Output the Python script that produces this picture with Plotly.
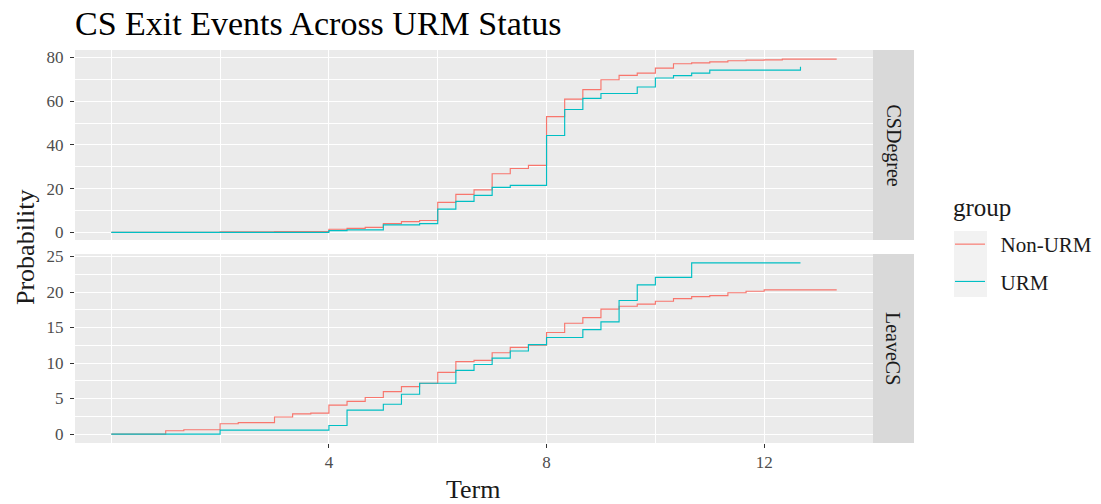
import plotly.graph_objects as go

# ---- data (terms in years of study; cumulative probability in %) ----
deg_nonurm_term = [0, 2, 3, 4, 4.333, 4.667, 5, 5.333, 5.667, 6, 6.333, 6.667, 7, 7.333, 7.667,
                   8, 8.333, 8.667, 9, 9.333, 9.667, 10, 10.333, 10.667, 11, 11.333, 11.667,
                   12, 12.333, 13.333]
deg_nonurm_prob = [0, 0.2, 0.4, 1.4, 1.8, 2.3, 4.0, 4.9, 5.4, 13.7, 17.4, 19.4, 26.8, 29.2, 30.6,
                   52.9, 60.9, 65.3, 69.8, 71.8, 72.8, 75.1, 77.1, 77.5, 78.0, 78.5, 78.8,
                   78.9, 79.2, 79.2]

deg_urm_term = [0, 4, 4.333, 5, 5.667, 6, 6.333, 6.667, 7, 7.333, 8, 8.333, 8.667, 9, 9.667,
                10, 10.333, 10.667, 11, 12.667]
deg_urm_prob = [0, 0.8, 1.1, 3.4, 4.0, 10.6, 14.2, 16.9, 20.6, 21.5, 44.3, 56.2, 61.3, 63.5, 66.5,
                70.6, 71.7, 72.8, 74.2, 75.7]

leave_nonurm_term = [0, 1, 1.333, 2, 2.333, 3, 3.333, 3.667, 4, 4.333, 4.667, 5, 5.333, 5.667,
                     6, 6.333, 6.667, 7, 7.333, 7.667, 8, 8.333, 8.667, 9, 9.333, 9.667, 10,
                     10.333, 10.667, 11, 11.333, 11.667, 12, 13.333]
leave_nonurm_prob = [0, 0.47, 0.6, 1.45, 1.6, 2.4, 2.85, 2.95, 4.07, 4.6, 5.14, 5.98, 6.68, 7.15,
                     8.69, 10.19, 10.37, 11.45, 12.2, 12.52, 14.3, 15.6, 16.4, 17.6, 18.0, 18.3, 18.7,
                     19.07, 19.35, 19.5, 19.9, 20.1, 20.3, 20.3]

leave_urm_term = [0, 2, 4, 4.333, 5, 5.333, 5.667, 6.333, 6.667, 7, 7.333, 7.667, 8, 8.667, 9,
                  9.333, 9.667, 10, 10.667, 12.667]
leave_urm_prob = [0, 0.56, 1.2, 3.36, 4.2, 5.6, 7.15, 8.97, 9.8, 10.7, 11.7, 12.6, 13.6, 14.7, 15.8,
                  18.8, 21.0, 22.06, 24.1, 24.1]

groups = ["Non-URM", "URM"]
colors = ["#F8766D", "#00BFC4"]
facets = ["CSDegree", "LeaveCS"]
x_ticks = [4, 8, 12]
x_minor = [0, 2, 6, 10]
y1_ticks = [0, 20, 40, 60, 80]
y1_minor = [10, 30, 50, 70]
y2_ticks = [0, 5, 10, 15, 20, 25]
y2_minor = [2.5, 7.5, 12.5, 17.5, 22.5]

W, H = 1101, 504
FONT = "Liberation Serif"
NBSP = "\u00a0"

def px_x(p):
    return p / W

def px_y(p):
    return 1 - p / H

fig = go.Figure()

series = [
    (deg_nonurm_term, deg_nonurm_prob, 0, "x", "y", True),
    (deg_urm_term, deg_urm_prob, 1, "x", "y", True),
    (leave_nonurm_term, leave_nonurm_prob, 0, "x2", "y2", False),
    (leave_urm_term, leave_urm_prob, 1, "x2", "y2", False),
]
for xs, ys, gi, xa, ya, show in series:
    fig.add_trace(go.Scatter(
        x=xs, y=ys, mode="lines", line=dict(color=colors[gi], width=1.15, shape="hv"),
        name=NBSP * 2 + groups[gi], legendgroup=groups[gi], showlegend=show,
        xaxis=xa, yaxis=ya, hoverinfo="skip"))

panel_l, panel_r = 75, 873
p1_t, p1_b = 50, 240
p2_t, p2_b = 254, 443
xrange = [-0.667, 14.0]

grid_major = dict(showgrid=True, gridcolor="white", gridwidth=1.1)
tickfont = dict(family=FONT, size=17, color="#4D4D4D")

common_x = dict(range=xrange, tickvals=x_ticks, zeroline=False, showline=False,
                automargin=False,
                minor=dict(tickvals=x_minor, showgrid=True, gridcolor="white", gridwidth=0.55,
                           ticks=""),
                **grid_major)
common_y = dict(ticks="outside", ticklen=4, tickwidth=1, tickcolor="#333333",
                tickfont=tickfont, zeroline=False, showline=False, automargin=False,
                ticklabelstandoff=3)

fig.update_layout(
    width=W, height=H,
    margin=dict(l=0, r=0, t=0, b=0, autoexpand=False),
    paper_bgcolor="white", plot_bgcolor="#EBEBEB",
    font=dict(family=FONT, color="#1A1A1A"),
    xaxis=dict(domain=[px_x(panel_l), px_x(panel_r)], anchor="y", showticklabels=False,
               ticks="", **common_x),
    xaxis2=dict(domain=[px_x(panel_l), px_x(panel_r)], anchor="y2", ticks="outside",
                ticklen=4, tickwidth=1, tickcolor="#333333", tickfont=tickfont,
                **common_x),
    yaxis=dict(domain=[px_y(p1_b), px_y(p1_t)], anchor="x", range=[-3.5, 83.4],
               tickvals=y1_ticks,
               minor=dict(tickvals=y1_minor, showgrid=True, gridcolor="white", gridwidth=0.55,
                          ticks=""),
               **grid_major, **common_y),
    yaxis2=dict(domain=[px_y(p2_b), px_y(p2_t)], anchor="x2", range=[-1.26, 25.35],
                tickvals=y2_ticks,
                minor=dict(tickvals=y2_minor, showgrid=True, gridcolor="white", gridwidth=0.55,
                           ticks=""),
                **grid_major, **common_y),
    title=dict(text="CS Exit Events Across URM Status", x=px_x(75), xanchor="left",
               y=px_y(23), yanchor="middle",
               font=dict(family=FONT, size=34, color="black")),
    legend=dict(font=dict(family=FONT, size=21, color="#1A1A1A"),
                x=px_x(950), xanchor="left", y=px_y(224), yanchor="top",
                bgcolor="rgba(0,0,0,0)", tracegroupgap=7, traceorder="grouped",
                itemwidth=30),
)

# strips
shapes = []
annotations = []
for (t, b), label in zip([(p1_t, p1_b), (p2_t, p2_b)], facets):
    shapes.append(dict(type="rect", xref="paper", yref="paper",
                       x0=px_x(873), x1=px_x(914), y0=px_y(b), y1=px_y(t),
                       fillcolor="#D9D9D9", line=dict(width=0), layer="below"))
    annotations.append(dict(text=label, xref="paper", yref="paper",
                            x=px_x(893.5), y=px_y((t + b) / 2), showarrow=False,
                            textangle=90, font=dict(family=FONT, size=20, color="#1A1A1A"),
                            xanchor="center", yanchor="middle"))
# legend key backgrounds
for top in (231, 264):
    shapes.append(dict(type="rect", xref="paper", yref="paper",
                       x0=px_x(954), x1=px_x(987), y0=px_y(top + 33), y1=px_y(top),
                       fillcolor="#F2F2F2", line=dict(width=0), layer="below"))

# legend title
annotations.append(dict(text="group", xref="paper", yref="paper",
                        x=px_x(951), y=px_y(207), showarrow=False,
                        font=dict(family=FONT, size=25, color="#1A1A1A"),
                        xanchor="left", yanchor="middle"))

annotations.append(dict(text="Probability", xref="paper", yref="paper",
                        x=px_x(25), y=px_y(247), showarrow=False, textangle=-90,
                        font=dict(family=FONT, size=26, color="#1A1A1A"),
                        xanchor="center", yanchor="middle"))

annotations.append(dict(text="Term", xref="paper", yref="paper",
                        x=px_x(474), y=px_y(489), showarrow=False,
                        font=dict(family=FONT, size=26, color="#1A1A1A"),
                        xanchor="center", yanchor="middle"))

fig.update_layout(shapes=shapes, annotations=annotations)
fig.write_html("out.html")
